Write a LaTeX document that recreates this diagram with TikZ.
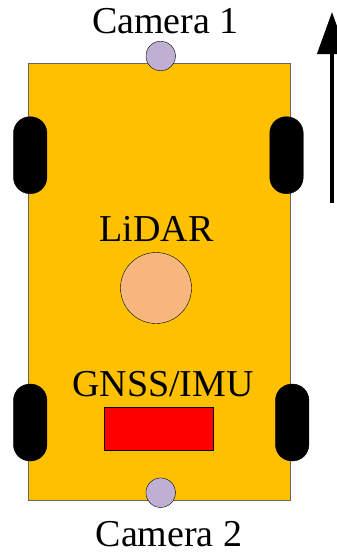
\documentclass[tikz,border=0pt]{standalone}
\usepackage{fontspec}
\setmainfont{Liberation Serif}
\usetikzlibrary{arrows.meta}
\definecolor{Cuerpo}{HTML}{FFC000}
\definecolor{Sensor}{HTML}{BFB0D3}
\definecolor{Lidar}{HTML}{F8B67F}
\tikzset{
  wheel/.style={draw=black,fill=black,rounded corners=16.5pt,minimum width=33.5pt,minimum height=77pt,inner sep=0pt},
  camera/.style={circle,draw=black,fill=Sensor,minimum size=29.5pt,inner sep=0pt},
  rotulo/.style={font=\fontsize{38pt}{38pt}\selectfont,inner sep=0pt,anchor=base}
}
\begin{document}
\begin{tikzpicture}[x=1pt,y=-1pt]
\useasboundingbox (0,0) rectangle (337,552);
\node[draw=black!60,fill=Cuerpo,minimum width=262pt,minimum height=437pt,inner sep=0pt] (body) at (158.7,281.5) {};
\node[wheel] (wheelA) at (30.2,155.2) {};
\node[wheel] (wheelB) at (286.5,155.2) {};
\node[wheel] (wheelC) at (30.2,422.5) {};
\node[wheel] (wheelD) at (292.2,422.5) {};
\node[camera] (camA) at (160.7,56) {};
\node[camera] (camB) at (160.7,492.7) {};
\node[circle,draw=black,fill=Lidar,minimum size=71pt,inner sep=0pt] (lidar) at (156,288) {};
\node[draw=black,fill=red,minimum width=109pt,minimum height=43.5pt,inner sep=0pt] (gnss) at (158.8,428.8) {};
\node[rotulo] (labelA) at (165.5,33) {Camera 1};
\node[rotulo] (labelB) at (156.5,241) {LiDAR};
\node[rotulo] (labelC) at (163,396) {GNSS/IMU};
\node[rotulo] (labelD) at (169,546.5) {Camera 2};
\coordinate (flechaA) at (332,203);
\coordinate (flechaB) at (332,12);
\draw[-{Triangle[length=42pt,width=29pt]},line width=4.3pt] (flechaA) -- (flechaB);
\end{tikzpicture}
\end{document}
